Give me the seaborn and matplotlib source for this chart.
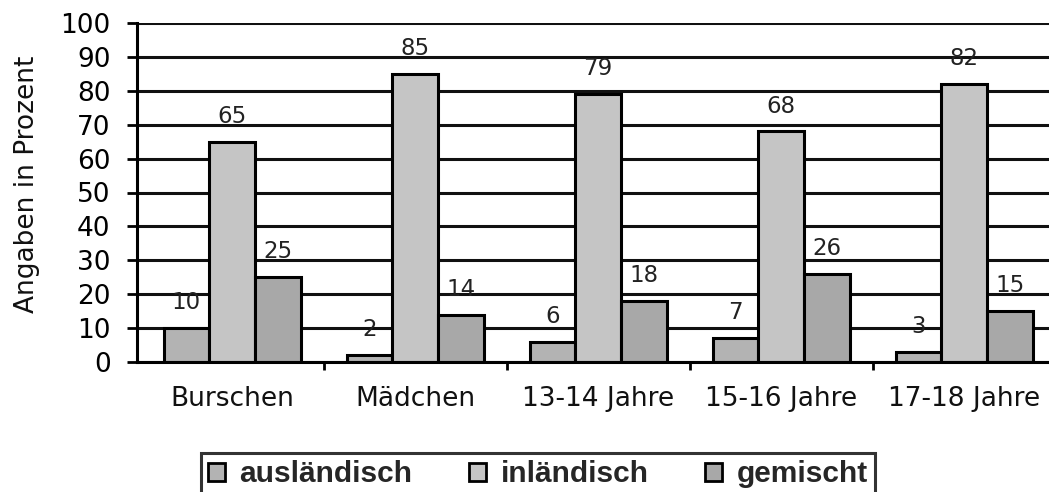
import matplotlib
matplotlib.use("Agg")
import matplotlib.pyplot as plt
from matplotlib.patches import Patch
from matplotlib.ticker import FixedLocator
import seaborn as sns
import pandas as pd

categories = ["Burschen", "Mädchen", "13-14 Jahre", "15-16 Jahre", "17-18 Jahre"]
series_names = ["ausländisch", "inländisch", "gemischt"]
auslaendisch = [10, 2, 6, 7, 3]
inlaendisch = [65, 85, 79, 68, 82]
gemischt = [25, 14, 18, 26, 15]
colors = ["#b3b3b3", "#c5c5c5", "#a8a8a8"]
y_ticks = [0, 10, 20, 30, 40, 50, 60, 70, 80, 90, 100]

rows = []
for name, vals in zip(series_names, [auslaendisch, inlaendisch, gemischt]):
    for c, v in zip(categories, vals):
        rows.append({"Gruppe": c, "Herkunft": name, "Prozent": v})
df = pd.DataFrame(rows)

sns.set_style("white")
plt.rcParams["font.family"] = ["DejaVu Sans"]

fig = plt.figure(figsize=(10.49, 4.92), dpi=100)
ax = fig.add_axes([137 / 1049, (492 - 362) / 492, 915 / 1049, 339 / 492])

sns.barplot(data=df, x="Gruppe", y="Prozent", hue="Herkunft",
            order=categories, hue_order=series_names,
            palette=colors, edgecolor="black", linewidth=2.2,
            width=0.75, gap=0, saturation=1, legend=False, ax=ax, errorbar=None)

for cont in ax.containers:
    ax.bar_label(cont, padding=10, fontsize=16.5, color="#222222")

ax.set_ylim(0, 100)
ax.set_xlim(-0.52, 4.48)
ax.set_yticks(y_ticks)
ax.grid(axis="y", color="#111111", linewidth=2.2)
ax.grid(axis="x", visible=False)
ax.set_axisbelow(True)

for s in ["top", "right"]:
    ax.spines[s].set_visible(False)
for s in ["left", "bottom"]:
    ax.spines[s].set_color("black")
    ax.spines[s].set_linewidth(2.2)

ax.tick_params(axis="y", which="major", length=7, width=2, pad=12,
               labelsize=19, colors="black", direction="out", left=True)
ax.tick_params(axis="x", which="major", length=0, pad=17, labelsize=19, colors="#111111")
ax.xaxis.set_minor_locator(FixedLocator([0.5, 1.5, 2.5, 3.5]))
ax.tick_params(axis="x", which="minor", length=6, width=2, direction="out",
               bottom=True, color="black")

ax.set_xlabel("")
ax.set_ylabel("Angaben in Prozent", fontsize=19, color="#111111")
ax.yaxis.set_label_coords(-0.106, 0.525)

handles = [Patch(facecolor=c, edgecolor="black", linewidth=2) for c in colors]
leg = fig.legend(handles, series_names, loc="upper center",
                 bbox_to_anchor=(538 / 1049, 1 - 453 / 492), ncol=3,
                 prop={"family": "Liberation Sans", "weight": "bold", "size": 21.5},
                 frameon=True, fancybox=False, handlelength=0.55, handleheight=0.55,
                 handletextpad=0.5, columnspacing=1.9, borderpad=0.25,
                 borderaxespad=0)
leg.get_frame().set_edgecolor("black")
leg.get_frame().set_linewidth(2.2)

fig.savefig("out.png", dpi=100)
